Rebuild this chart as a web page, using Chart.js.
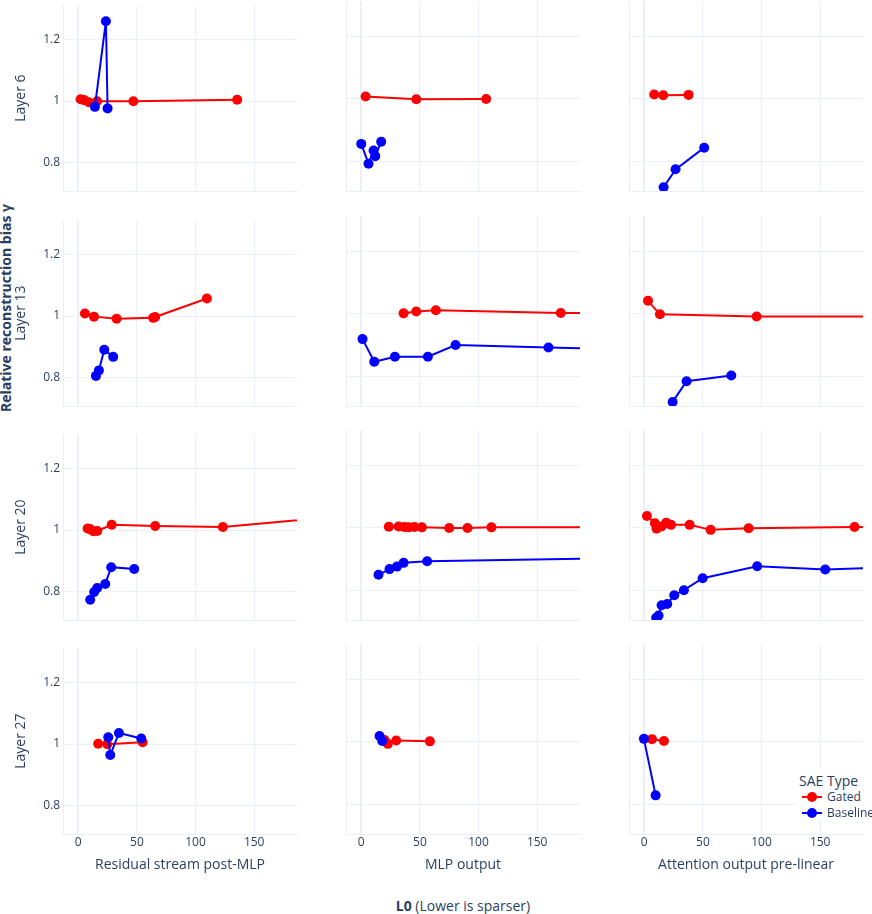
<!DOCTYPE html>
<html>
<head>
<meta charset="utf-8">
<script src="https://cdn.jsdelivr.net/npm/chart.js@4.4.1/dist/chart.umd.min.js"></script>
<style>
  html, body { margin: 0; padding: 0; background: #fff; }
  body {
    width: 872px; height: 914px; position: relative; overflow: hidden;
    font-family: 'Open Sans', verdana, arial, sans-serif; color: #2a3f5f;
  }
  .panel { position: absolute; }
  .big-ytitle {
    position: absolute; left: 5px; top: 308px;
    transform: translate(-50%, -50%) rotate(-90deg);
    font-size: 14px; font-weight: bold; white-space: nowrap;
  }
  .big-xtitle {
    position: absolute; left: 463px; top: 905px;
    transform: translate(-50%, -50%);
    font-size: 14px; white-space: nowrap;
  }
  .legend {
    position: absolute; left: 797px; top: 768px; width: 75px; height: 52px;
    background: #fff; z-index: 5;
  }
  .legend-title { position: absolute; left: 2px; top: 4px; font-size: 14px; line-height: 18px; white-space: nowrap; }
  .legend-item { position: absolute; left: 5px; height: 14px; font-size: 12px; line-height: 14px; white-space: nowrap; }
  .legend-item svg { position: absolute; left: 0; top: 2px; }
  .legend-item span { position: absolute; left: 25px; top: 0; }
</style>
</head>
<body>

<div class="big-ytitle">Relative reconstruction bias γ</div>
<div class="big-xtitle"><b>L0</b> (Lower is sparser)</div>

<div class="legend">
  <div class="legend-title">SAE Type</div>
  <div class="legend-item" style="top:22px">
    <svg width="20" height="10"><line x1="0" y1="5" x2="20" y2="5" stroke="#ff0000" stroke-width="2"/><circle cx="10" cy="5" r="5" fill="#ff0000"/></svg>
    <span>Gated</span>
  </div>
  <div class="legend-item" style="top:38px">
    <svg width="20" height="10"><line x1="0" y1="5" x2="20" y2="5" stroke="#0000ff" stroke-width="2"/><circle cx="10" cy="5" r="5" fill="#0000ff"/></svg>
    <span>Baseline</span>
  </div>
</div>

<script>
// ── DATA — values, [L0, relative bias γ] ──
const LAYERS = ['Layer 6', 'Layer 13', 'Layer 20', 'Layer 27'];
const SITES = ['Residual stream post-MLP', 'MLP output', 'Attention output pre-linear'];
const SAE_TYPES = ['Gated', 'Baseline'];
const X_TICKS = [0, 50, 100, 150];
const Y_TICKS = [0.8, 1, 1.2];

// Layer 6
const gatedL6Resid = [[2, 1.006], [5, 1.003], [9, 0.996], [16, 0.999], [47, 0.999], [135.5, 1.004]];
const baseL6Resid  = [[14.2, 0.981], [23.6, 1.26], [25, 0.976]];
const gatedL6Mlp   = [[3.7, 1.008], [46.9, 0.999], [106.5, 1.0]];
const baseL6Mlp    = [[0, 0.857], [6.2, 0.794], [10.5, 0.836], [11.9, 0.818], [17, 0.864]];
const gatedL6Attn  = [[8.5, 1.014], [16.2, 1.012], [37.8, 1.013]];
const baseL6Attn   = [[16.5, 0.719], [26.7, 0.776], [51.1, 0.845]];

// Layer 13
const gatedL13Resid = [[5.7, 1.008], [13.4, 0.998], [32.7, 0.991], [63.9, 0.994], [65.6, 0.997], [109.7, 1.057]];
const baseL13Resid  = [[15.1, 0.805], [17.6, 0.823], [22.2, 0.89], [29.8, 0.867]];
const gatedL13Mlp   = [[36.1, 1.002], [46.9, 1.008], [63.6, 1.012], [170.1, 1.003], [260, 1.003]];
const baseL13Mlp    = [[1.1, 0.92], [11.1, 0.848], [28.7, 0.864], [56.8, 0.864], [80.4, 0.901], [159.6, 0.893], [260, 0.885]];
const gatedL13Attn  = [[3.2, 1.042], [13.4, 0.999], [95.8, 0.992], [260, 0.992]];
const baseL13Attn   = [[24.2, 0.72], [36.1, 0.786], [74.2, 0.804]];

// Layer 20
const gatedL20Resid = [[8, 1.005], [10, 1.003], [12.8, 0.996], [16.2, 0.997], [28.5, 1.017], [65.6, 1.013], [123.3, 1.01], [250, 1.053]];
const baseL20Resid  = [[10.2, 0.773], [13.6, 0.798], [16.2, 0.811], [23, 0.824], [28.1, 0.879], [47.7, 0.873]];
const gatedL20Mlp   = [[23.5, 1.004], [31.8, 1.005], [36.6, 1.003], [40.3, 1.002], [45.4, 1.003], [51.7, 1.002], [75, 1.0], [90.6, 1.0], [111, 1.002], [250, 1.002]];
const baseL20Mlp    = [[14.7, 0.851], [24.1, 0.869], [30.4, 0.877], [36.1, 0.889], [56.2, 0.894], [250, 0.906]];
const gatedL20Attn  = [[2.3, 1.038], [9.1, 1.015], [10.5, 0.998], [14.8, 1.005], [18.8, 1.017], [22.8, 1.01], [38.7, 1.01], [56.6, 0.994], [89, 0.999], [179.3, 1.003], [260, 1.003]];
const baseL20Attn   = [[10.2, 0.714], [12.2, 0.721], [14.8, 0.754], [19.6, 0.758], [25.6, 0.786], [33.8, 0.802], [49.8, 0.84], [96.3, 0.878], [154.3, 0.868], [260, 0.881]];

// Layer 27
const gatedL27Resid = [[17, 1.001], [24.7, 0.999], [54.9, 1.006]];
const baseL27Resid  = [[25.6, 1.022], [27.3, 0.964], [34.7, 1.036], [53.7, 1.018]];
const gatedL27Mlp   = [[19.9, 1.006], [22.7, 0.994], [29.8, 1.005], [58.5, 1.002]];
const baseL27Mlp    = [[15.6, 1.019], [17.9, 1.003]];
const gatedL27Attn  = [[6.6, 1.009], [16.8, 1.003]];
const baseL27Attn   = [[-0.3, 1.01], [9.7, 0.83]];

// grid of panels: rows = layers, columns = sites
const PANELS = [
  [[gatedL6Resid, baseL6Resid], [gatedL6Mlp, baseL6Mlp], [gatedL6Attn, baseL6Attn]],
  [[gatedL13Resid, baseL13Resid], [gatedL13Mlp, baseL13Mlp], [gatedL13Attn, baseL13Attn]],
  [[gatedL20Resid, baseL20Resid], [gatedL20Mlp, baseL20Mlp], [gatedL20Attn, baseL20Attn]],
  [[gatedL27Resid, baseL27Resid], [gatedL27Mlp, baseL27Mlp], [gatedL27Attn, baseL27Attn]],
];

// ── LAYOUT ───────────────────────────────────────────────────
Chart.defaults.font.family = "'Open Sans', verdana, arial, sans-serif";
Chart.defaults.font.size = 12;
Chart.defaults.color = '#2a3f5f';

const GRID = '#EBF0F8';
const PLOT_LEFT = [63, 346, 629];
const PLOT_TOP = [1, 216, 430, 644];
const PLOT_W = 234, PLOT_H = 190;
const AXIS_W = 63, AXIS_H = 45, PAD = 6;

const toXY = pairs => pairs.map(([x, y]) => ({ x, y }));

PANELS.forEach((row, r) => row.forEach(([gated, base], c) => {
  const box = document.createElement('div');
  box.className = 'panel';
  box.style.left = (PLOT_LEFT[c] - AXIS_W) + 'px';
  box.style.top = (PLOT_TOP[r] - PAD) + 'px';
  box.style.width = (AXIS_W + PLOT_W + PAD) + 'px';
  box.style.height = (PAD + PLOT_H + AXIS_H) + 'px';
  const canvas = document.createElement('canvas');
  box.appendChild(canvas);
  document.body.appendChild(box);

  const bottomRow = r === LAYERS.length - 1;
  const firstCol = c === 0;

  new Chart(canvas, {
    type: 'line',
    data: {
      datasets: [
        { label: SAE_TYPES[0], data: toXY(gated), borderColor: '#ff0000', backgroundColor: '#ff0000', order: 1 },
        { label: SAE_TYPES[1], data: toXY(base), borderColor: '#0000ff', backgroundColor: '#0000ff', order: 0 },
      ]
    },
    options: {
      responsive: true,
      maintainAspectRatio: false,
      animation: false,
      events: [],
      layout: { padding: { top: PAD, right: PAD, left: 0, bottom: 0 } },
      elements: {
        line: { borderWidth: 2, tension: 0 },
        point: { radius: 5, borderWidth: 0, hoverRadius: 5 },
      },
      plugins: { legend: { display: false }, tooltip: { enabled: false } },
      scales: {
        x: {
          type: 'linear', min: -13, max: 186.5,
          afterBuildTicks: s => { s.ticks = X_TICKS.map(v => ({ value: v })); },
          afterFit: s => { s.height = AXIS_H; },
          grid: { color: GRID, lineWidth: ctx => (ctx.tick && ctx.tick.value === 0 ? 2 : 1), drawTicks: false },
          border: { display: true, color: GRID, width: 1 },
          ticks: { display: bottomRow, padding: 1, callback: v => String(v) },
          title: { display: bottomRow, text: SITES[c], font: { size: 14 }, padding: { top: 0, bottom: 5.6 } },
        },
        y: {
          type: 'linear', min: 0.707, max: 1.312,
          afterBuildTicks: s => { s.ticks = Y_TICKS.map(v => ({ value: v })); },
          afterFit: s => { s.width = AXIS_W; },
          grid: { color: GRID, lineWidth: 1, drawTicks: false },
          border: { display: true, color: GRID, width: 1 },
          ticks: { display: firstCol, padding: 3, callback: v => String(v) },
          title: { display: firstCol, text: LAYERS[r], font: { size: 14 }, padding: { top: 13, bottom: 0 } },
        },
      },
    },
  });
}));
</script>
</body>
</html>
